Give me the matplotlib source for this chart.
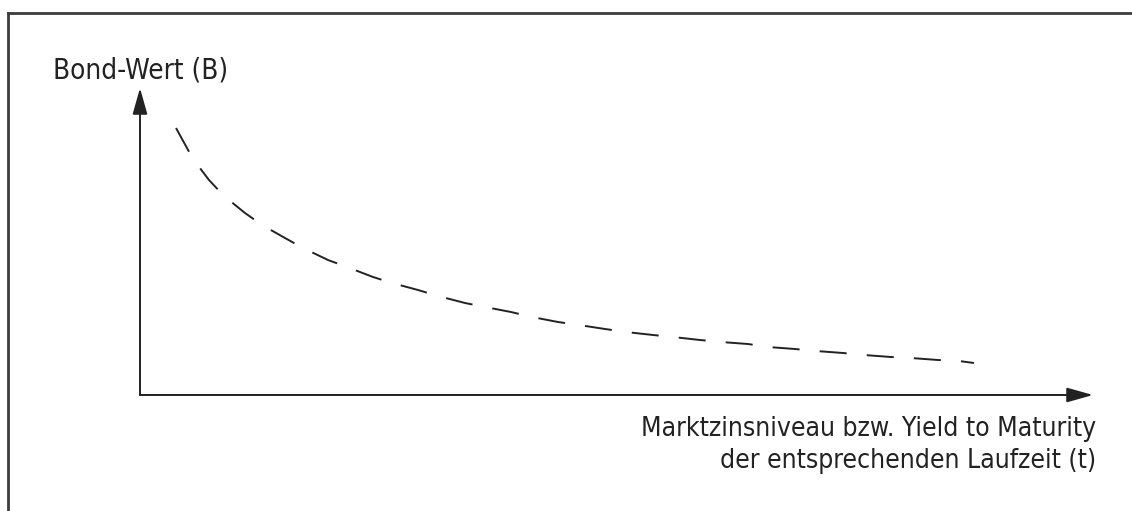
import numpy as np
import matplotlib
matplotlib.use('Agg')
import matplotlib.pyplot as plt
from matplotlib.lines import Line2D

plt.rcParams['font.family'] = ['DejaVu Sans']
plt.rcParams['font.stretch'] = 'condensed'
plt.rcParams['lines.scale_dashes'] = False

# Kurve: Bond-Wert in Abhaengigkeit vom Marktzins (beliebige Einheiten)
zins = [36, 53, 69, 84, 105, 122, 145, 163, 188, 207, 233, 252, 278, 298,
        325, 345, 371, 392, 418, 439, 465, 486, 513, 533, 560, 581, 608,
        628, 655, 676, 703, 724, 751, 771, 798, 819, 834]
bond_wert = [267, 236, 215, 199, 182, 170, 157, 147, 135, 128, 118, 112,
             105, 99, 92, 88, 83, 78, 73, 70, 66, 63, 60, 58, 55, 53, 51,
             48, 46, 44, 42, 40, 38, 37, 35, 34, 32]

x_max = 953
y_max = 307

y_label = "Bond-Wert (B)"
x_label = "Marktzinsniveau bzw. Yield to Maturity\nder entsprechenden Laufzeit (t)"

W, H = 1132, 511
fig = plt.figure(figsize=(W / 100, H / 100), dpi=100)
fig.patch.set_facecolor('white')

# Rahmen: oben und links
fig.add_artist(Line2D([8 / W, 1.0], [1 - 13 / H, 1 - 13 / H], transform=fig.transFigure,
                      color='#3c3c3c', lw=2.0))
fig.add_artist(Line2D([8 / W, 8 / W], [1 - 13 / H, 0.0], transform=fig.transFigure,
                      color='#3c3c3c', lw=2.0))

ax = fig.add_axes([140 / W, (H - 395) / H, (1093 - 140) / W, (395 - 88) / H])
ax.set_xlim(0, x_max)
ax.set_ylim(0, y_max)
ax.axis('off')

# Achsen mit Pfeilspitzen
arrow = dict(arrowstyle='-|>,head_length=1.6,head_width=0.45', mutation_scale=10,
             color='#222222', lw=1.4, shrinkA=0, shrinkB=0)
ax.annotate('', xy=(x_max, 0), xytext=(0, 0), arrowprops=arrow, annotation_clip=False)
ax.annotate('', xy=(0, y_max), xytext=(0, 0), arrowprops=arrow, annotation_clip=False)

ax.plot(zins, bond_wert, color='#222222', lw=1.4, dashes=(19.5, 14.5), clip_on=False)

fig.text(53 / W, 1 - 78 / H, y_label, fontsize=20, color='#222222',
         ha='left', va='baseline')
fig.text(1096 / W, 1 - 468 / H, x_label, fontsize=19, color='#222222',
         ha='right', va='baseline', ma='right', linespacing=1.3)

fig.savefig('out.png', dpi=100, facecolor='white')
